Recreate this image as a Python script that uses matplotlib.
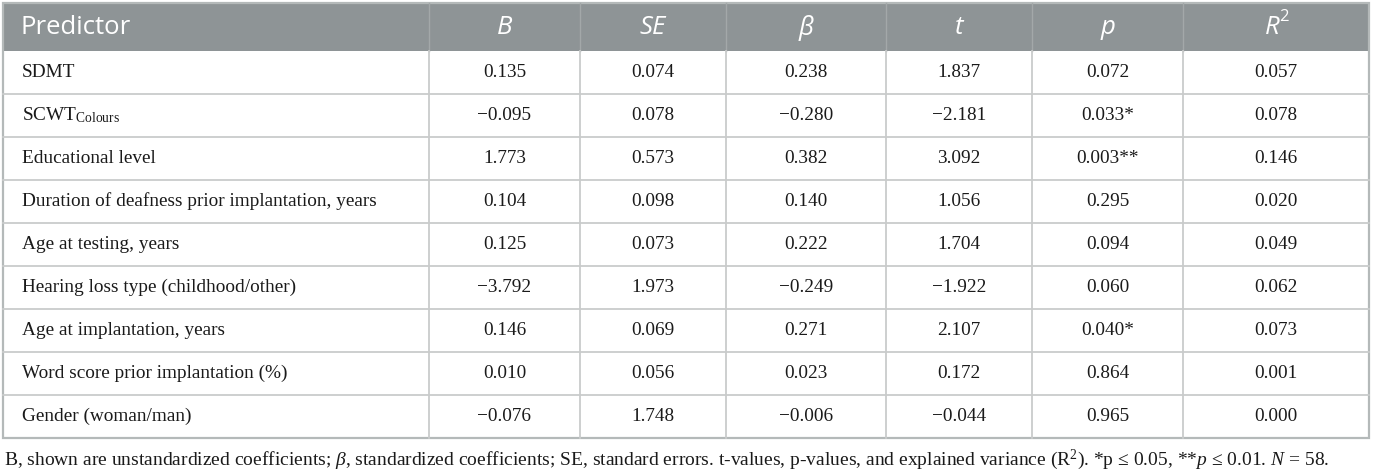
import matplotlib
matplotlib.use("Agg")
import matplotlib.pyplot as plt
from matplotlib.patches import Rectangle

plt.rcParams["mathtext.fontset"] = "custom"
plt.rcParams["mathtext.rm"] = "Liberation Serif"
plt.rcParams["mathtext.it"] = "Liberation Serif:italic"

# table content
columns = ["B", "SE", "β", "t", "p"]
predictors = [
    "SDMT",
    r"SCWT$_{\mathrm{Colours}}$",
    "Educational level",
    "Duration of deafness prior implantation, years",
    "Age at testing, years",
    "Hearing loss type (childhood/other)",
    "Age at implantation, years",
    "Word score prior implantation (%)",
    "Gender (woman/man)",
]
b_vals = ["0.135", "−0.095", "1.773", "0.104", "0.125", "−3.792", "0.146", "0.010", "−0.076"]
se_vals = ["0.074", "0.078", "0.573", "0.098", "0.073", "1.973", "0.069", "0.056", "1.748"]
beta_vals = ["0.238", "−0.280", "0.382", "0.140", "0.222", "−0.249", "0.271", "0.023", "−0.006"]
t_vals = ["1.837", "−2.181", "3.092", "1.056", "1.704", "−1.922", "2.107", "0.172", "−0.044"]
p_vals = ["0.072", "0.033*", "0.003**", "0.295", "0.094", "0.060", "0.040*", "0.864", "0.965"]
r2_vals = ["0.057", "0.078", "0.146", "0.020", "0.049", "0.062", "0.073", "0.001", "0.000"]

footnote = (r"B, shown are unstandardized coefficients; $\mathit{β}$, standardized coefficients; "
            r"SE, standard errors. t-values, p-values, and explained variance ($\mathrm{R}^{2}$). "
            r"*p ≤ 0.05, **$\mathit{p}$ ≤ 0.01. $\mathit{N}$ = 58.")

# layout in pixels
W, H = 1375, 473
col_edges = [3, 429, 580, 726, 886, 1032, 1183, 1369]
top, header_bottom, row_h = 3, 51, 43
header_color = "#8e9496"
grid_color = "#c9cbcb"
border_color = "#b4b9b9"

fig = plt.figure(figsize=(W / 100, H / 100), dpi=100)
ax = fig.add_axes([0, 0, 1, 1])
ax.set_xlim(0, W)
ax.set_ylim(H, 0)
ax.axis("off")

n_rows = len(predictors)
bottom = header_bottom + n_rows * row_h

ax.add_patch(Rectangle((col_edges[0], top), col_edges[-1] - col_edges[0], header_bottom - top,
                       facecolor=header_color, edgecolor="none"))

# grid
for i in range(1, n_rows):
    y = header_bottom + i * row_h
    ax.plot([col_edges[0], col_edges[-1]], [y, y], color=grid_color, lw=1.3)
for x in col_edges[1:-1]:
    ax.plot([x, x], [top, header_bottom], color="#a3a8a9", lw=1.0)
    ax.plot([x, x], [header_bottom, bottom], color=grid_color, lw=1.3)
ax.add_patch(Rectangle((col_edges[0], top), col_edges[-1] - col_edges[0], bottom - top,
                       facecolor="none", edgecolor=border_color, lw=1.6))

# header
hy = (top + header_bottom) / 2 + 1
hfont = dict(family="Open Sans", color="white", fontsize=18.5, va="center")
ax.text(21, hy, "Predictor", ha="left", **hfont)
centers = [(col_edges[i] + col_edges[i + 1]) / 2 for i in range(1, len(col_edges) - 1)]
for cx, name in zip(centers, columns):
    ax.text(cx, hy, name, ha="center", style="italic", **hfont)
r_txt = ax.text(centers[-1] - 4, hy, "R", ha="center", style="italic", **hfont)
ax.annotate("2", xy=(1.0, 0.95), xycoords=r_txt, ha="left", va="center",
            family="Open Sans", color="white", fontsize=12)

# body
bfont = dict(family="Liberation Serif", color="#1a1a1a", fontsize=13.9, va="center")
value_cols = [b_vals, se_vals, beta_vals, t_vals, p_vals, r2_vals]
for i, name in enumerate(predictors):
    y = header_bottom + (i + 0.5) * row_h
    ax.text(22, y, name, ha="left", **bfont)
    for cx, vals in zip(centers, value_cols):
        ax.text(cx, y, vals[i], ha="center", **bfont)

ax.text(4, 460, footnote, ha="left", va="center", family="Liberation Serif",
        color="#1a1a1a", fontsize=14)

fig.savefig("out.png", dpi=100)
